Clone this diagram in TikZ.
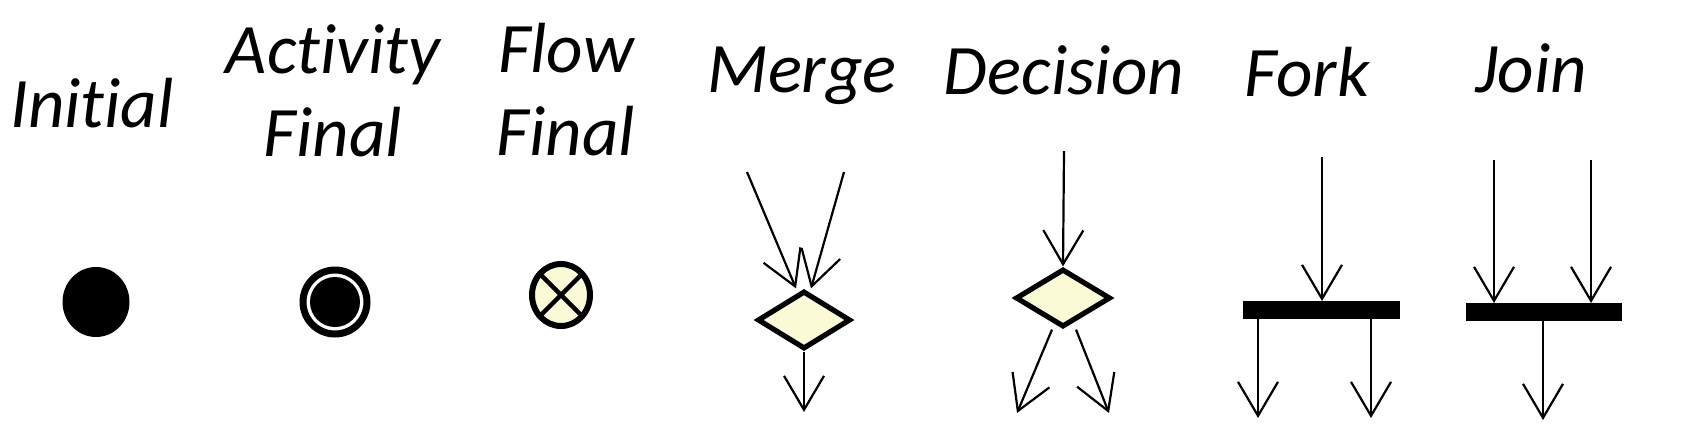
\documentclass[tikz,border=0pt]{standalone}
\usepackage{fontspec}
\setmainfont{Carlito}[Ligatures=NoCommon]
\usetikzlibrary{arrows.meta, shapes.geometric, calc}
\definecolor{paleyellow}{RGB}{250,250,214}

\begin{document}
\begin{tikzpicture}[
    x=0.5pt, y=-0.5pt,
    lbl/.style={font=\fontsize{35.5}{41.5}\selectfont\itshape, anchor=base, align=center, inner sep=0},
    arrow/.style={-{Straight Barb[length=17pt, width=20pt]}, line width=1.1pt},
    diam/.style={diamond, draw, line width=2.6pt, fill=paleyellow, inner sep=0, minimum width=46.5pt, minimum height=29pt},
    bar/.style={rectangle, fill=black, inner sep=0, outer sep=0, minimum width=78.5pt, minimum height=9pt}
]
    \path[fill=white] (0,0) rectangle (1706,434);
    \useasboundingbox (0,0) rectangle (1706,434);

    % labels (base = last line)
    \node[lbl] (l-init) at (92,127) {Initial};
    \node[lbl] (l-act) at (333,156) {Activity\\Final};
    \node[lbl] (l-flow) at (566,155) {Flow\\Final};
    \node[lbl] (l-merge) at (802,92) {Merge};
    \node[lbl] (l-dec) at (1064,94) {Decision};
    \node[lbl] (l-fork) at (1307,96) {Fork};
    \node[lbl] (l-join) at (1531,92) {Join};

    % final nodes
    \node[ellipse, fill=black, inner sep=0, minimum width=33.5pt, minimum height=35pt] (init) at (96,302) {};
    \node[circle, draw, line width=3.5pt, inner sep=0, minimum size=32pt] (act) at (335,302) {};
    \node[circle, fill=black, inner sep=0, minimum size=25pt] (act-in) at (act) {};
    \node[ellipse, draw, line width=3pt, fill=paleyellow, inner sep=0, outer sep=0, minimum width=29pt, minimum height=31pt] (flow) at (561,295) {};
    \draw[line width=2.2pt] (flow.45) -- (flow.225);
    \draw[line width=2.2pt] (flow.135) -- (flow.315);

    % merge
    \node[diam] (merge) at (804,320) {};
    \coordinate (merge-a) at (747,172);
    \coordinate (merge-b) at (844,172);
    \coordinate (merge-out) at (804,412);
    \draw[arrow] (merge-a) -- ($(merge.north)+(-8,0)$);
    \draw[arrow] (merge-b) -- ($(merge.north)+(7,0)$);
    \draw[arrow] (merge.south) -- (merge-out);

    % decision
    \node[diam, minimum width=47.5pt] (dec) at (1063,298) {};
    \coordinate (dec-in) at (1064,151);
    \coordinate (dec-l) at (1017,413);
    \coordinate (dec-r) at (1109,413);
    \draw[arrow] (dec-in) -- (dec.north);
    \draw[arrow] ($(dec.south)+(-11,0)$) -- (dec-l);
    \draw[arrow] ($(dec.south)+(13,0)$) -- (dec-r);

    % fork
    \node[bar] (fork) at (1321.5,310) {};
    \coordinate (fork-in) at (1322,157);
    \coordinate (fork-l) at (1258,418);
    \coordinate (fork-r) at (1371,418);
    \draw[arrow] (fork-in) -- (fork-in |- fork.north);
    \draw[arrow] (fork-l |- fork.south) -- (fork-l);
    \draw[arrow] (fork-r |- fork.south) -- (fork-r);

    % join
    \node[bar, minimum width=78pt] (join) at (1544,312) {};
    \coordinate (join-a) at (1494,160);
    \coordinate (join-b) at (1591,160);
    \coordinate (join-out) at (1543,420);
    \draw[arrow] (join-a) -- (join-a |- join.north);
    \draw[arrow] (join-b) -- (join-b |- join.north);
    \draw[arrow] (join-out |- join.south) -- (join-out);
\end{tikzpicture}
\end{document}
